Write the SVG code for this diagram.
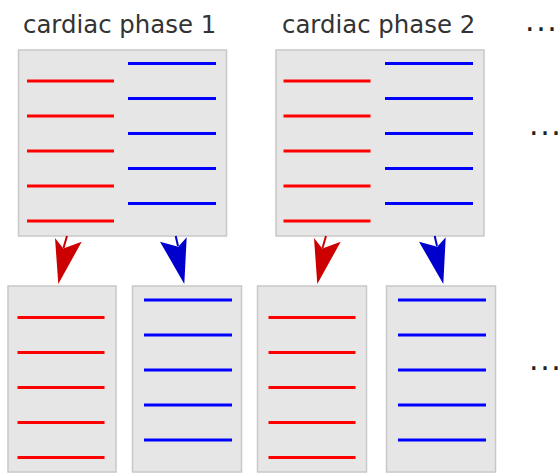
<svg xmlns="http://www.w3.org/2000/svg" width="560" height="473" viewBox="0 0 560 473">
  <style>
    .box { fill: #e6e6e6; stroke: #c8c8c8; stroke-width: 1.5; }
    .r { stroke: #ff0000; stroke-width: 3; }
    .b { stroke: #0000ff; stroke-width: 3; }
    .lbl { font-family: "DejaVu Sans", "Liberation Sans", sans-serif; font-size: 24.4px; fill: #333333; }
    .dots { font-family: "DejaVu Sans", "Liberation Sans", sans-serif; font-size: 30px; fill: #222222; letter-spacing: 1.6px; }
    .ar { fill: #cc0000; }
    .ab { fill: #0000cc; }
    .sr { stroke: #cc0000; stroke-width: 2; fill: none; }
    .sb { stroke: #0000cc; stroke-width: 2; fill: none; }
  </style>
  <defs>
    <g id="redLines">
      <line class="r" x1="0" y1="0" x2="87" y2="0"/>
      <line class="r" x1="0" y1="35" x2="87" y2="35"/>
      <line class="r" x1="0" y1="70" x2="87" y2="70"/>
      <line class="r" x1="0" y1="105" x2="87" y2="105"/>
      <line class="r" x1="0" y1="140" x2="87" y2="140"/>
    </g>
    <g id="blueLines">
      <line class="b" x1="0" y1="0" x2="88" y2="0"/>
      <line class="b" x1="0" y1="35" x2="88" y2="35"/>
      <line class="b" x1="0" y1="70" x2="88" y2="70"/>
      <line class="b" x1="0" y1="105" x2="88" y2="105"/>
      <line class="b" x1="0" y1="140" x2="88" y2="140"/>
    </g>
  </defs>

  <!-- phase labels -->
  <text class="lbl" x="23" y="33">cardiac phase 1</text>
  <text class="lbl" x="282" y="33">cardiac phase 2</text>
  <text class="dots" x="525" y="31">..<tspan letter-spacing="0">.</tspan></text>
  <text class="dots" x="529" y="135">..<tspan letter-spacing="0">.</tspan></text>
  <text class="dots" x="529" y="370">..<tspan letter-spacing="0">.</tspan></text>

  <!-- combined data, phase 1 -->
  <g id="phase1">
    <rect class="box" x="18.5" y="50" width="208" height="186"/>
    <use href="#redLines" x="27" y="81"/>
    <use href="#blueLines" x="128" y="63.5"/>
  </g>

  <!-- combined data, phase 2 -->
  <g id="phase2">
    <rect class="box" x="276" y="50" width="208" height="186"/>
    <use href="#redLines" x="283.5" y="81"/>
    <use href="#blueLines" x="385" y="63.5"/>
  </g>

  <!-- split outputs -->
  <g id="phase1-red">
    <rect class="box" x="8" y="286" width="108" height="186"/>
    <use href="#redLines" x="17.5" y="317.5"/>
  </g>
  <g id="phase1-blue">
    <rect class="box" x="132.5" y="286" width="109" height="186"/>
    <use href="#blueLines" x="144" y="300"/>
  </g>
  <g id="phase2-red">
    <rect class="box" x="257.5" y="286" width="109" height="186"/>
    <use href="#redLines" x="268.5" y="317.5"/>
  </g>
  <g id="phase2-blue">
    <rect class="box" x="386.5" y="286" width="109" height="186"/>
    <use href="#blueLines" x="398" y="300"/>
  </g>

  <!-- connectors -->
  <g id="connectors">
    <g id="arrowRed">
      <line class="sr" x1="67" y1="236" x2="63.5" y2="248"/>
      <path class="ar" d="M58.3,284 L55,238 L63.3,248.5 L81.7,241.7 Z"/>
    </g>
    <g id="arrowBlue">
      <line class="sb" x1="175.7" y1="236" x2="178" y2="246"/>
      <path class="ab" d="M184.3,284 L160,241.7 L178.3,246.7 L186.7,237.3 Z"/>
    </g>
    <use href="#arrowRed" x="259"/>
    <use href="#arrowBlue" x="259"/>
  </g>
</svg>
